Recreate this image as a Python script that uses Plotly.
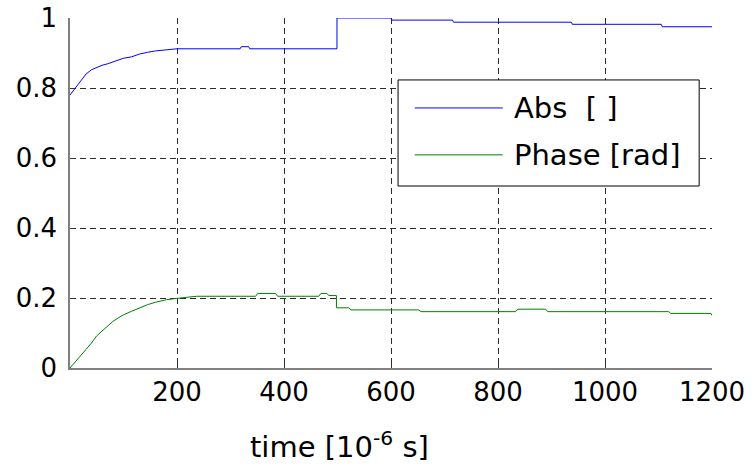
import plotly.graph_objects as go

# Abs [ ] series (time in 1e-6 s)
abs_t = [0, 5, 10, 15, 20, 30, 40, 50, 60, 70, 80, 90, 100, 115, 130, 145, 160, 180, 200,
         318, 320, 334, 336, 499, 499, 600, 602, 715, 717, 937, 939, 1105, 1107, 1200]
abs_v = [0.78, 0.79, 0.80, 0.812, 0.823, 0.84, 0.852, 0.859, 0.865, 0.869, 0.874, 0.878,
         0.885, 0.889, 0.897, 0.902, 0.906, 0.909, 0.912,
         0.912, 0.918, 0.918, 0.912, 0.912, 1.0, 1.0, 0.994, 0.994, 0.988, 0.988, 0.982,
         0.982, 0.975, 0.975]

# Phase [rad] series
ph_t = [0, 10, 20, 30, 40, 50, 60, 70, 80, 90, 100, 115, 130, 145, 160, 180, 200, 237,
        347, 351, 384, 388, 465, 469, 480, 484, 498, 498, 521, 525, 652, 656, 833, 837,
        889, 893, 1119, 1123, 1198, 1200]
ph_v = [0, 0.017, 0.035, 0.053, 0.071, 0.092, 0.106, 0.12, 0.133, 0.143, 0.152, 0.162,
        0.172, 0.181, 0.188, 0.195, 0.199, 0.205,
        0.205, 0.213, 0.213, 0.205, 0.205, 0.213, 0.213, 0.207, 0.207, 0.172, 0.172,
        0.166, 0.166, 0.161, 0.161, 0.168, 0.168, 0.161, 0.161, 0.156, 0.156, 0.15]

series_names = ["Abs  [ ]", "Phase [rad]"]
series_colors = ["#0000FF", "#008000"]

x_ticks = [200, 400, 600, 800, 1000, 1200]
y_ticks = [0, 0.2, 0.4, 0.6, 0.8, 1]
y_tick_text = ["0", "0.2", "0.4", "0.6", "0.8", "1"]

FONT = "DejaVu Sans"
GRID = "#2a2a2a"

fig = go.Figure()
fig.add_trace(go.Scatter(x=abs_t, y=abs_v, mode="lines",
                         line=dict(color=series_colors[0], width=1),
                         name=series_names[0], showlegend=False))
fig.add_trace(go.Scatter(x=ph_t, y=ph_v, mode="lines",
                         line=dict(color=series_colors[1], width=1),
                         name=series_names[1], showlegend=False))

# Legend box (Matlab style) drawn in paper coordinates
shapes = [dict(type="rect", xref="paper", yref="paper", x0=0.511, x1=0.980,
               y0=0.520, y1=0.823, line=dict(color="black", width=1),
               fillcolor="white", layer="above")]
annotations = []
legend_y = [0.743, 0.609]
for name, color, ly in zip(series_names, series_colors, legend_y):
    shapes.append(dict(type="line", xref="paper", yref="paper", x0=0.537, x1=0.674,
                       y0=ly, y1=ly, line=dict(color=color, width=1), layer="above"))
    annotations.append(dict(text=name, xref="paper", yref="paper", x=0.688, y=ly,
                            xanchor="left", yanchor="middle", showarrow=False,
                            font=dict(family=FONT, size=29, color="black")))

# x-axis title
annotations.append(dict(text="time [10<sup>-6</sup> s]", xref="paper", yref="paper",
                        x=0.42, y=-0.22, xanchor="center", yanchor="middle",
                        showarrow=False, font=dict(family=FONT, size=29, color="black")))

fig.update_layout(
    width=753, height=467,
    margin=dict(l=70, r=41, t=18, b=99),
    paper_bgcolor="white", plot_bgcolor="white",
    font=dict(family=FONT, size=26, color="black"),
    showlegend=False,
    shapes=shapes,
    annotations=annotations,
)
fig.update_xaxes(range=[0, 1200], tickvals=x_ticks, showgrid=True, automargin=False,
                 gridcolor=GRID, griddash="6px,4px", gridwidth=1,
                 showline=True, linecolor="#808080", linewidth=1.5,
                 zeroline=False, ticks="inside", ticklen=5, tickcolor="#333333",
                 tickfont=dict(size=26))
fig.update_yaxes(range=[0, 1], tickvals=y_ticks, ticktext=y_tick_text, automargin=False,
                 showgrid=True, gridcolor=GRID, griddash="6px,4px",
                 gridwidth=1, showline=True, linecolor="#808080", linewidth=1.5,
                 zeroline=False, ticks="inside", ticklen=5, tickcolor="#333333",
                 ticklabelstandoff=6, tickfont=dict(size=26))

fig.write_html("out.html")
